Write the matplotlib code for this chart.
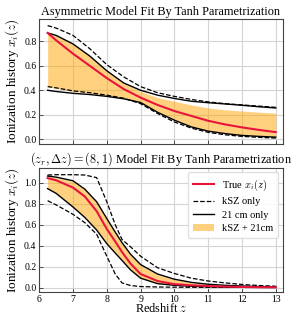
import numpy as np
import matplotlib
matplotlib.use("Agg")
import matplotlib.pyplot as plt

plt.rcParams['font.family'] = ['Liberation Serif', 'DejaVu Serif']
plt.rcParams['mathtext.fontset'] = 'cm'

# top panel: asymmetric model
z_top = [6.25, 6.5, 7.0, 7.5, 8.0, 8.5, 9.0, 9.5, 10.0, 10.5, 11.0, 11.5, 12.0, 12.5, 13.0]
true_top = [0.87, 0.81, 0.70, 0.60, 0.50, 0.41, 0.34, 0.28, 0.23, 0.19, 0.15, 0.12, 0.096, 0.075, 0.057]
ksz_hi_top = [0.93, 0.91, 0.85, 0.74, 0.61, 0.51, 0.43, 0.38, 0.35, 0.325, 0.305, 0.29, 0.28, 0.27, 0.26]
ksz_lo_top = [0.43, 0.42, 0.395, 0.38, 0.36, 0.335, 0.29, 0.21, 0.14, 0.09, 0.055, 0.035, 0.022, 0.014, 0.008]
cm_hi_top = [0.87, 0.85, 0.78, 0.68, 0.56, 0.46, 0.40, 0.36, 0.333, 0.31, 0.298, 0.288, 0.277, 0.265, 0.255]
cm_lo_top = [0.40, 0.39, 0.375, 0.365, 0.35, 0.33, 0.30, 0.22, 0.155, 0.10, 0.065, 0.045, 0.03, 0.022, 0.016]
comb_hi_top = [0.87, 0.85, 0.78, 0.68, 0.56, 0.46, 0.39, 0.34, 0.31, 0.28, 0.255, 0.24, 0.23, 0.22, 0.213]
comb_lo_top = [0.43, 0.415, 0.39, 0.375, 0.355, 0.33, 0.30, 0.22, 0.155, 0.10, 0.065, 0.045, 0.03, 0.022, 0.016]

# bottom panel: (z_r, dz) = (8, 1)
z_bot = [6.25, 6.5, 7.0, 7.35, 7.7, 8.0, 8.25, 8.45, 8.7, 9.0, 9.5, 10.0, 10.5, 11.0, 11.5, 12.0, 12.5, 13.0]
true_bot = [1.045, 1.025, 0.955, 0.87, 0.73, 0.56, 0.44, 0.34, 0.23, 0.13, 0.063, 0.033, 0.022, 0.015, 0.01, 0.006, 0.004, 0.003]
ksz_hi_bot = [1.075, 1.078, 1.078, 1.075, 1.05, 0.82, 0.60, 0.46, 0.39, 0.30, 0.19, 0.135, 0.09, 0.063, 0.045, 0.03, 0.02, 0.013]
ksz_lo_bot = [0.83, 0.79, 0.70, 0.62, 0.51, 0.30, 0.13, 0.045, 0.02, 0.01, 0.006, 0.004, 0.003, 0.003, 0.003, 0.003, 0.003, 0.003]
cm_hi_bot = [1.065, 1.055, 1.02, 0.94, 0.82, 0.66, 0.53, 0.43, 0.32, 0.22, 0.13, 0.08, 0.05, 0.032, 0.022, 0.015, 0.01, 0.007]
cm_lo_bot = [0.945, 0.90, 0.77, 0.67, 0.55, 0.42, 0.33, 0.26, 0.17, 0.09, 0.038, 0.022, 0.013, 0.008, 0.005, 0.003, 0.002, 0.001]
comb_hi_bot = [1.06, 1.05, 1.015, 0.935, 0.815, 0.655, 0.525, 0.425, 0.315, 0.215, 0.125, 0.078, 0.048, 0.031, 0.021, 0.014, 0.009, 0.006]
comb_lo_bot = [0.95, 0.905, 0.775, 0.675, 0.555, 0.425, 0.335, 0.265, 0.175, 0.093, 0.04, 0.023, 0.014, 0.009, 0.005, 0.003, 0.002, 0.001]

fig = plt.figure(figsize=(2.99, 3.15), dpi=100)
ax1 = fig.add_axes([0.131, 0.543, 0.814, 0.397])
ax2 = fig.add_axes([0.131, 0.073, 0.814, 0.393])

def draw(ax, z, true, khi, klo, chi, clo, bhi, blo):
    ax.fill_between(z, blo, bhi, color='orange', alpha=0.5, lw=0, label='kSZ + 21cm')
    ax.plot(z, khi, 'k--', lw=0.9, label='kSZ only')
    ax.plot(z, klo, 'k--', lw=0.9)
    ax.plot(z, chi, 'k-', lw=1.0, label='21 cm only')
    ax.plot(z, clo, 'k-', lw=1.0)
    ax.plot(z, true, color='#e8143c', lw=1.5, label='True $x_i(z)$')
    ax.set_xlim(6, 13.2)
    ax.set_xticks(range(6, 14))
    ax.grid(True, color='#d4d4d4', lw=0.8)
    ax.set_axisbelow(True)
    ax.tick_params(direction='in', labelsize=7, length=3, width=0.6, color='#333333', pad=2)
    for s in ax.spines.values():
        s.set_color('#444444')
        s.set_linewidth(0.8)
    ax.set_ylabel('Ionization history $x_i(z)$', fontsize=9.5, labelpad=2)

draw(ax1, z_top, true_top, ksz_hi_top, ksz_lo_top, cm_hi_top, cm_lo_top, comb_hi_top, comb_lo_top)
ax1.set_ylim(-0.04, 0.985)
ax1.set_yticks([0.0, 0.2, 0.4, 0.6, 0.8])
ax1.set_yticklabels(['0.0', '0.2', '0.4', '0.6', '0.8'])
ax1.set_xticklabels([])
ax1.set_title('Asymmetric Model Fit By Tanh Parametrization', fontsize=8.8, pad=3)

draw(ax2, z_bot, true_bot, ksz_hi_bot, ksz_lo_bot, cm_hi_bot, cm_lo_bot, comb_hi_bot, comb_lo_bot)
ax2.set_ylim(-0.042, 1.14)
ax2.set_yticks([0.0, 0.2, 0.4, 0.6, 0.8, 1.0])
ax2.set_yticklabels(['0.0', '0.2', '0.4', '0.6', '0.8', '1.0'])
ax2.set_title(r'$(z_r, \Delta z) = (8, 1)$ Model Fit By Tanh Parametrization', fontsize=8.8, pad=3)
ax2.set_xlabel('Redshift $z$', fontsize=8.8, labelpad=-1)
h, l = ax2.get_legend_handles_labels()
by_label = dict(zip(l, h))
order = ['True $x_i(z)$', 'kSZ only', '21 cm only', 'kSZ + 21cm']
ax2.legend([by_label[k] for k in order], order, loc='upper right', fontsize=7.5,
           framealpha=0.9, edgecolor='#dddddd', handlelength=2.0, borderpad=0.5,
           labelspacing=0.4, borderaxespad=0.4)

fig.savefig('out.png', dpi=100)
